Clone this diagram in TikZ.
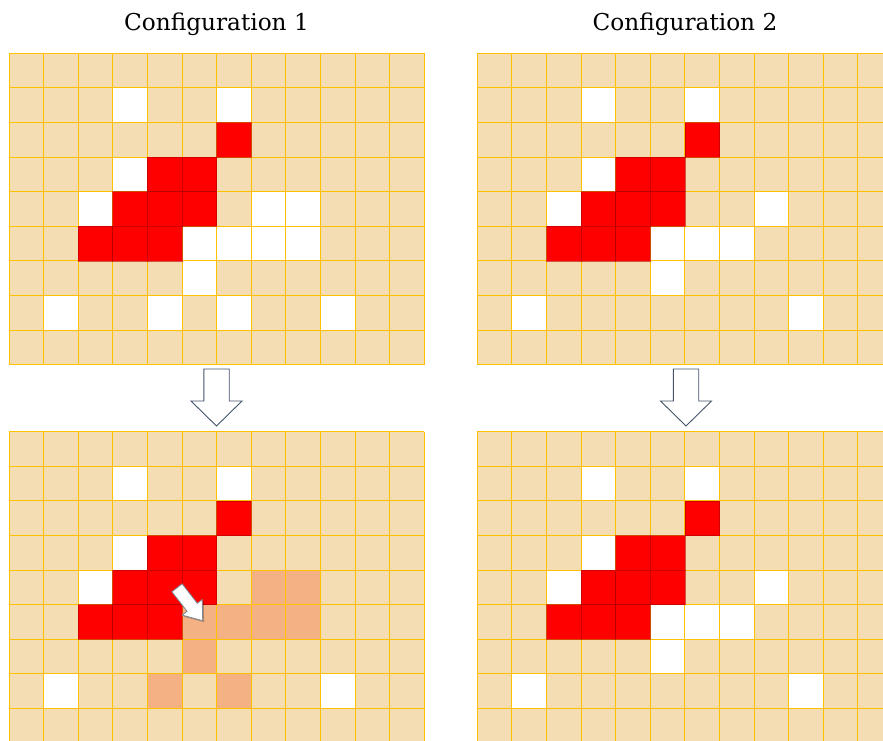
\documentclass[tikz,border=0pt]{standalone}
\usepackage{fontspec}
\setmainfont{DejaVu Serif}
\definecolor{beige}{HTML}{F4DDB2}
\definecolor{gridline}{HTML}{FFC000}
\definecolor{salmon}{HTML}{F4B183}
\definecolor{hotred}{HTML}{FF0000}
\definecolor{darkred}{HTML}{B00000}
\definecolor{slateline}{HTML}{44546A}
\begin{document}
\begin{tikzpicture}[x=1pt,y=-1pt,
  title/.style={anchor=base,font=\fontsize{23.2}{28}\selectfont,inner sep=0pt},
  gridrule/.style={draw=gridline,line width=0.9pt},
  redcell/.style={fill=hotred,draw=darkred,draw opacity=0.6,line width=0.8pt},
  blockarrow/.style={fill=white,draw=slateline,line width=0.9pt,line join=miter},
  movearrow/.style={fill=white,draw=slateline!70,line width=0.8pt,line join=miter}]
\useasboundingbox (0,0) rectangle (883,740);
\clip (0,0) rectangle (883,740);

\def\cs{34.6}
% fill one cell: column, row, style
\newcommand\paintcell[3]{\path[#3] ({#1*\cs},{#2*\cs}) rectangle ({(#1+1)*\cs},{(#2+1)*\cs});}
% base board: 12 x 9 cells
\newcommand\board{%
  \fill[beige] (0,0) rectangle ({12*\cs},{9*\cs});}
\newcommand\boardlines{%
  \foreach \i in {0,...,12}{\draw[gridrule] ({\i*\cs},0) -- ({\i*\cs},{9*\cs});}
  \foreach \j in {0,...,9}{\draw[gridrule] (0,{\j*\cs}) -- ({12*\cs},{\j*\cs});}}
\newcommand\redshape{%
  \foreach \c/\r in {6/2,4/3,5/3,3/4,4/4,5/4,2/5,3/5,4/5}{\paintcell{\c}{\r}{redcell}}}

% titles
\node[title] (title1) at (216.5,30.7) {Configuration 1};
\node[title] (title2) at (685,30.7) {Configuration 2};

% configuration 1, before
\begin{scope}[shift={(9,53.3)}]
  \board
  \foreach \c/\r in {3/1,6/1,3/3,2/4,7/4,8/4,5/5,6/5,7/5,8/5,5/6,1/7,4/7,6/7,9/7}{\paintcell{\c}{\r}{fill=white}}
  \boardlines
  \redshape
\end{scope}

% configuration 2, before
\begin{scope}[shift={(477.3,53.3)}]
  \board
  \foreach \c/\r in {3/1,6/1,3/3,2/4,8/4,5/5,6/5,7/5,5/6,1/7,9/7}{\paintcell{\c}{\r}{fill=white}}
  \boardlines
  \redshape
\end{scope}

% configuration 1, after
\begin{scope}[shift={(9,431.7)}]
  \board
  \foreach \c/\r in {3/1,6/1,3/3,2/4,1/7,9/7}{\paintcell{\c}{\r}{fill=white}}
  \foreach \c/\r in {7/4,8/4,5/5,6/5,7/5,8/5,5/6,4/7,6/7}{\paintcell{\c}{\r}{fill=salmon}}
  \boardlines
  \redshape
\end{scope}

% configuration 2, after
\begin{scope}[shift={(477.3,431.7)}]
  \board
  \foreach \c/\r in {3/1,6/1,3/3,2/4,8/4,5/5,6/5,7/5,5/6,1/7,9/7}{\paintcell{\c}{\r}{fill=white}}
  \boardlines
  \redshape
\end{scope}

% down arrows between the boards
\foreach \cx in {216.5,686}{
  \draw[blockarrow] ({\cx-12.7},369) -- ({\cx+12.7},369) -- ({\cx+12.7},401)
    -- ({\cx+25.5},401) -- (\cx,426) -- ({\cx-25.5},401) -- ({\cx-12.7},401) -- cycle;}

% spreading arrow with its shadow
\fill[black,opacity=0.25] (183.6,585.3) -- (198.8,604.8) -- (203.7,601) -- (204.2,622.2)
  -- (183.7,616.6) -- (188.6,612.8) -- (173.4,593.3) -- cycle;
\draw[movearrow] (182.1,583.8) -- (197.3,603.3) -- (202.2,599.5) -- (202.7,620.7)
  -- (182.2,615.1) -- (187.1,611.3) -- (171.9,591.8) -- cycle;
\end{tikzpicture}
\end{document}
